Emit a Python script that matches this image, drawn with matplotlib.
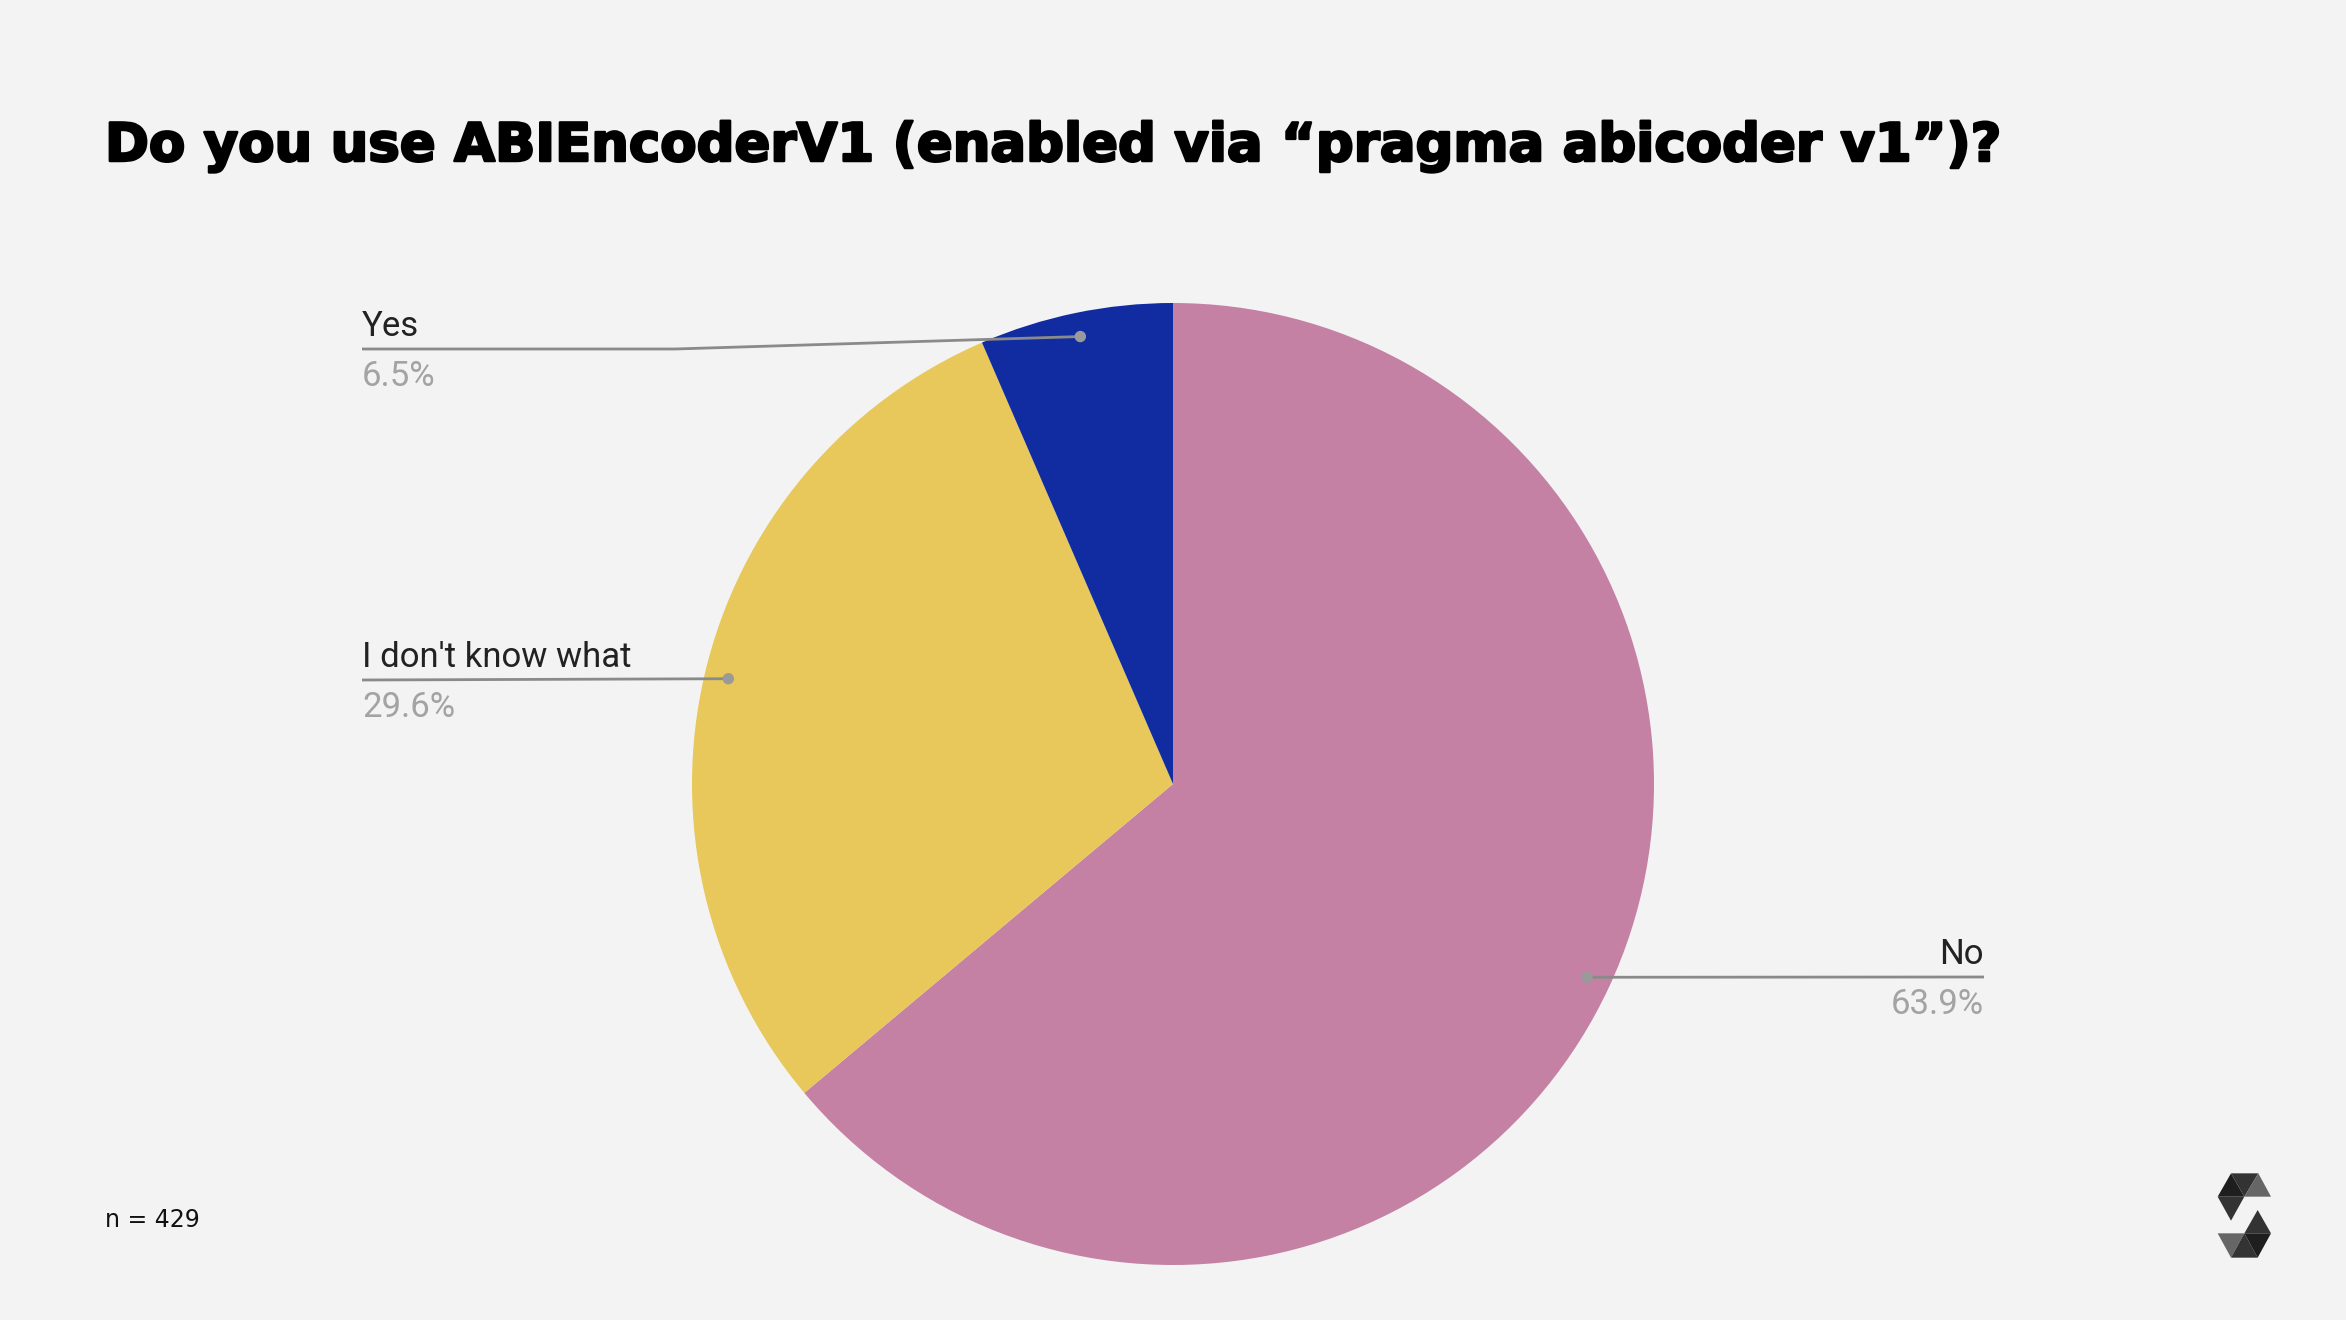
import numpy as np
import matplotlib
matplotlib.use("Agg")
import matplotlib.pyplot as plt
import matplotlib.patheffects as pe
from matplotlib.patches import Polygon, Circle

W, H = 2346, 1320
categories = ["No", "I don't know what", "Yes"]
values = [63.9, 29.6, 6.5]
pct_labels = ["63.9%", "29.6%", "6.5%"]
colors = ["#C481A4", "#E8C85A", "#102CA0"]
title = "Do you use ABIEncoderV1 (enabled via \u201cpragma abicoder v1\u201d)?"
note = "n = 429"

fig = plt.figure(figsize=(W / 100, H / 100), dpi=100, facecolor="#F3F3F3")
ax = fig.add_axes([0, 0, 1, 1])
ax.set_facecolor("#F3F3F3")

cx, cy, R = 1173, H - 784, 481
ax.pie(values, colors=colors, startangle=90, counterclock=False,
       center=(cx, cy), radius=R, wedgeprops=dict(linewidth=0), frame=True)
ax.set_xlim(0, W)
ax.set_ylim(0, H)
ax.set_aspect("equal")
ax.axis("off")

# dot positions from data (clockwise from 12 o'clock)
cum = np.cumsum([0] + values[:-1])
mids = (cum + np.array(values) / 2) / 100 * 2 * np.pi
rdot = 0.95 * R
dots = [(cx + rdot * np.sin(a), cy + rdot * np.cos(a)) for a in mids]

line_c = "#8a8a8a"
lab_font = "Roboto"
layout = {
    "No": dict(x=1984, ly=977, ha="right", elbow=None),
    "I don't know what": dict(x=362, ly=680, ha="left", elbow=None),
    "Yes": dict(x=362, ly=349, ha="left", elbow=675),
}
for cat, pct, (dx, dy) in zip(categories, pct_labels, dots):
    L = layout[cat]
    ly = H - L["ly"]
    if L["ha"] == "left":
        xs = [L["x"]] + ([L["elbow"]] if L["elbow"] else []) + [dx]
        ys = [ly] + ([ly] if L["elbow"] else []) + [dy]
    else:
        xs = [dx, L["x"]]
        ys = [dy, ly]
    ax.plot(xs, ys, color=line_c, lw=2.0, solid_capstyle="butt", zorder=5)
    ax.add_patch(Circle((dx, dy), 5, color="#9a9a9a", zorder=6))
    ax.text(L["x"], ly + 6, cat, ha=L["ha"], va="bottom", fontsize=25,
            family=lab_font, color="#222222")
    ax.text(L["x"], ly - 11, pct, ha=L["ha"], va="top", fontsize=25,
            family=lab_font, color="#a3a3a3")

t = ax.text(105, H - 161, title, ha="left", va="baseline", fontsize=40,
            family="DejaVu Sans", fontweight="bold", color="#000000",
            path_effects=[pe.withStroke(linewidth=1.8, foreground="#000000")])
fig.canvas.draw()
w = t.get_window_extent().width
t.set_fontsize(40 * 1895 / w)

ax.text(105, H - 1227, note, ha="left", va="baseline", fontsize=17,
        family="DejaVu Sans", color="#111111")

# Solidity logo
def P(zx, zy):
    return (2180 + zx / 3, H - (1150 + zy / 3))

tris = [
    ([(153, 70), (113, 140), (193, 140)], "#1e1e1e"),
    ([(153, 70), (235, 70), (193, 140)], "#333333"),
    ([(235, 70), (273, 140), (193, 140)], "#666666"),
    ([(113, 140), (193, 140), (153, 212)], "#333333"),
    ([(233, 180), (193, 250), (273, 250)], "#333333"),
    ([(113, 250), (193, 250), (153, 323)], "#666666"),
    ([(193, 250), (153, 323), (233, 323)], "#333333"),
    ([(193, 250), (273, 250), (233, 323)], "#1e1e1e"),
]
for pts, c in tris:
    ax.add_patch(Polygon([P(*p) for p in pts], closed=True, color=c, lw=0))

fig.savefig("out.png", dpi=100, facecolor=fig.get_facecolor())
